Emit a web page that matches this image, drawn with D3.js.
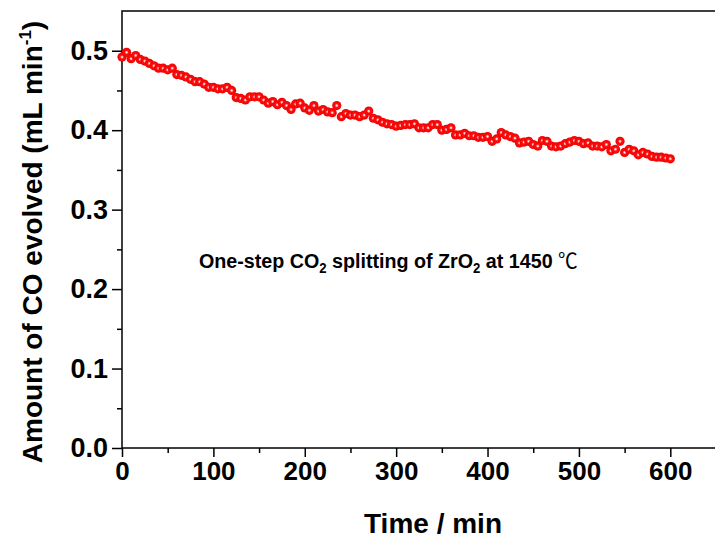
<!DOCTYPE html>
<html lang="en">
<head>
<meta charset="utf-8">
<title>CO evolved vs time</title>
<script src="https://cdnjs.cloudflare.com/ajax/libs/d3/7.8.5/d3.min.js"></script>
<style>
  body { margin: 0; background: #fff; }
  svg text { font-family: "Liberation Sans", Arial, sans-serif; font-weight: bold; fill: #000; }
  .axis line { stroke: #000; stroke-width: 1.5px; }
  .frame { fill: none; stroke: #000; stroke-width: 1.5px; }
</style>
</head>
<body>
<script>
// sampling grid, minutes (one reading every 5 min)
var times = d3.range(0, 601, 5);

// CO evolution rate, mL/min
var coRate = [
  0.492, 0.498, 0.490, 0.494, 0.489, 0.487, 0.484, 0.481, 0.478, 0.478,
  0.476, 0.478, 0.470, 0.469, 0.467, 0.464, 0.461, 0.461, 0.458, 0.454,
  0.454, 0.452, 0.452, 0.454, 0.450, 0.441, 0.440, 0.438, 0.442, 0.442,
  0.442, 0.438, 0.434, 0.436, 0.432, 0.435, 0.431, 0.426, 0.433, 0.434,
  0.428, 0.425, 0.431, 0.424, 0.426, 0.423, 0.422, 0.431, 0.417, 0.421,
  0.419, 0.419, 0.417, 0.419, 0.424, 0.415, 0.413, 0.410, 0.408, 0.407,
  0.405, 0.406, 0.407, 0.407, 0.408, 0.403, 0.403, 0.403, 0.407, 0.407,
  0.400, 0.401, 0.403, 0.394, 0.394, 0.396, 0.393, 0.393, 0.391, 0.391,
  0.392, 0.386, 0.389, 0.397, 0.394, 0.392, 0.390, 0.384, 0.385, 0.386,
  0.382, 0.380, 0.387, 0.386, 0.380, 0.379, 0.380, 0.383, 0.385, 0.387,
  0.386, 0.383, 0.384, 0.380, 0.380, 0.379, 0.382, 0.374, 0.376, 0.386,
  0.372, 0.376, 0.374, 0.369, 0.372, 0.370, 0.367, 0.366, 0.366, 0.365,
  0.364
];

var xMajor = [0, 100, 200, 300, 400, 500, 600];
var xMinor = [50, 150, 250, 350, 450, 550];
var yMajor = [0.0, 0.1, 0.2, 0.3, 0.4, 0.5];
var yMinor = [0.05, 0.15, 0.25, 0.35, 0.45];

var xTitle = "Time / min";
var yTitle = "Amount of CO evolved (mL min";
var note = ["One-step CO", "2", " splitting of ZrO", "2", " at 1450 "];

var W = 715, H = 539;
var margin = {left: 122, right: 716, top: 11, bottom: 448};

var x = d3.scaleLinear().domain([0, 650]).range([margin.left, margin.right]);
var y = d3.scaleLinear().domain([0, 0.55]).range([margin.bottom, margin.top]);

var svg = d3.select("body").append("svg")
    .attr("width", W)
    .attr("height", H);

// marker shading: red ball with a small light centre
var grad = svg.append("defs").append("radialGradient")
    .attr("id", "ball")
    .attr("cx", "50%").attr("cy", "50%").attr("r", "50%");
grad.append("stop").attr("offset", "0%").attr("stop-color", "#ffffff");
grad.append("stop").attr("offset", "15%").attr("stop-color", "#ffc8c8");
grad.append("stop").attr("offset", "40%").attr("stop-color", "#ff1010");
grad.append("stop").attr("offset", "100%").attr("stop-color", "#f00000");

// frame (right side falls just outside the page)
svg.append("rect")
    .attr("class", "frame")
    .attr("x", margin.left).attr("y", margin.top)
    .attr("width", margin.right - margin.left)
    .attr("height", margin.bottom - margin.top);

// x axis: major + minor ticks
var gx = svg.append("g").attr("class", "axis")
    .attr("transform", "translate(0," + margin.bottom + ")");
gx.call(d3.axisBottom(x).tickValues(xMajor).tickSize(9).tickPadding(5).tickFormat(d3.format("d")));
gx.append("g").call(d3.axisBottom(x).tickValues(xMinor).tickSize(5).tickFormat(""));
gx.selectAll(".domain").remove();
gx.selectAll("text").style("font-size", "26px").attr("dy", "0.71em");

// y axis
var gy = svg.append("g").attr("class", "axis")
    .attr("transform", "translate(" + margin.left + ",0)");
gy.call(d3.axisLeft(y).tickValues(yMajor).tickSize(10).tickPadding(4).tickFormat(d3.format(".1f")));
gy.append("g").call(d3.axisLeft(y).tickValues(yMinor).tickSize(5).tickFormat(""));
gy.selectAll(".domain").remove();
gy.selectAll("text").style("font-size", "27px");

// data points
svg.append("g").selectAll("circle")
    .data(times)
  .enter().append("circle")
    .attr("cx", function(d) { return x(d); })
    .attr("cy", function(d, i) { return y(coRate[i]); })
    .attr("r", 4.6)
    .attr("fill", "url(#ball)");

// axis titles
svg.append("text")
    .attr("x", 433).attr("y", 533)
    .attr("text-anchor", "middle")
    .style("font-size", "28px")
    .text(xTitle);

var yt = svg.append("text")
    .attr("transform", "translate(42,242) rotate(-90)")
    .attr("text-anchor", "middle")
    .style("font-size", "28px");
yt.append("tspan").text(yTitle);
yt.append("tspan").attr("dy", -11).style("font-size", "17px").text("-1");
yt.append("tspan").attr("dy", 11).text(")");

// annotation
var nt = svg.append("text")
    .attr("transform", "translate(199,268)")
    .style("font-size", "21px");
note.forEach(function(s, i) {
  var t = nt.append("tspan").text(s);
  if (s === "2") t.attr("dy", 5).style("font-size", "14px");
  else if (i > 0) t.attr("dy", -5);
});
nt.append("tspan")
    .style("font-weight", "normal")
    .style("font-family", "'Noto Sans CJK SC', sans-serif")
    .text("\u2103");
var nw = nt.node().getBBox().width;
nt.attr("transform", "translate(199,268) scale(" + (379 / nw) + ",1)");
</script>
</body>
</html>
